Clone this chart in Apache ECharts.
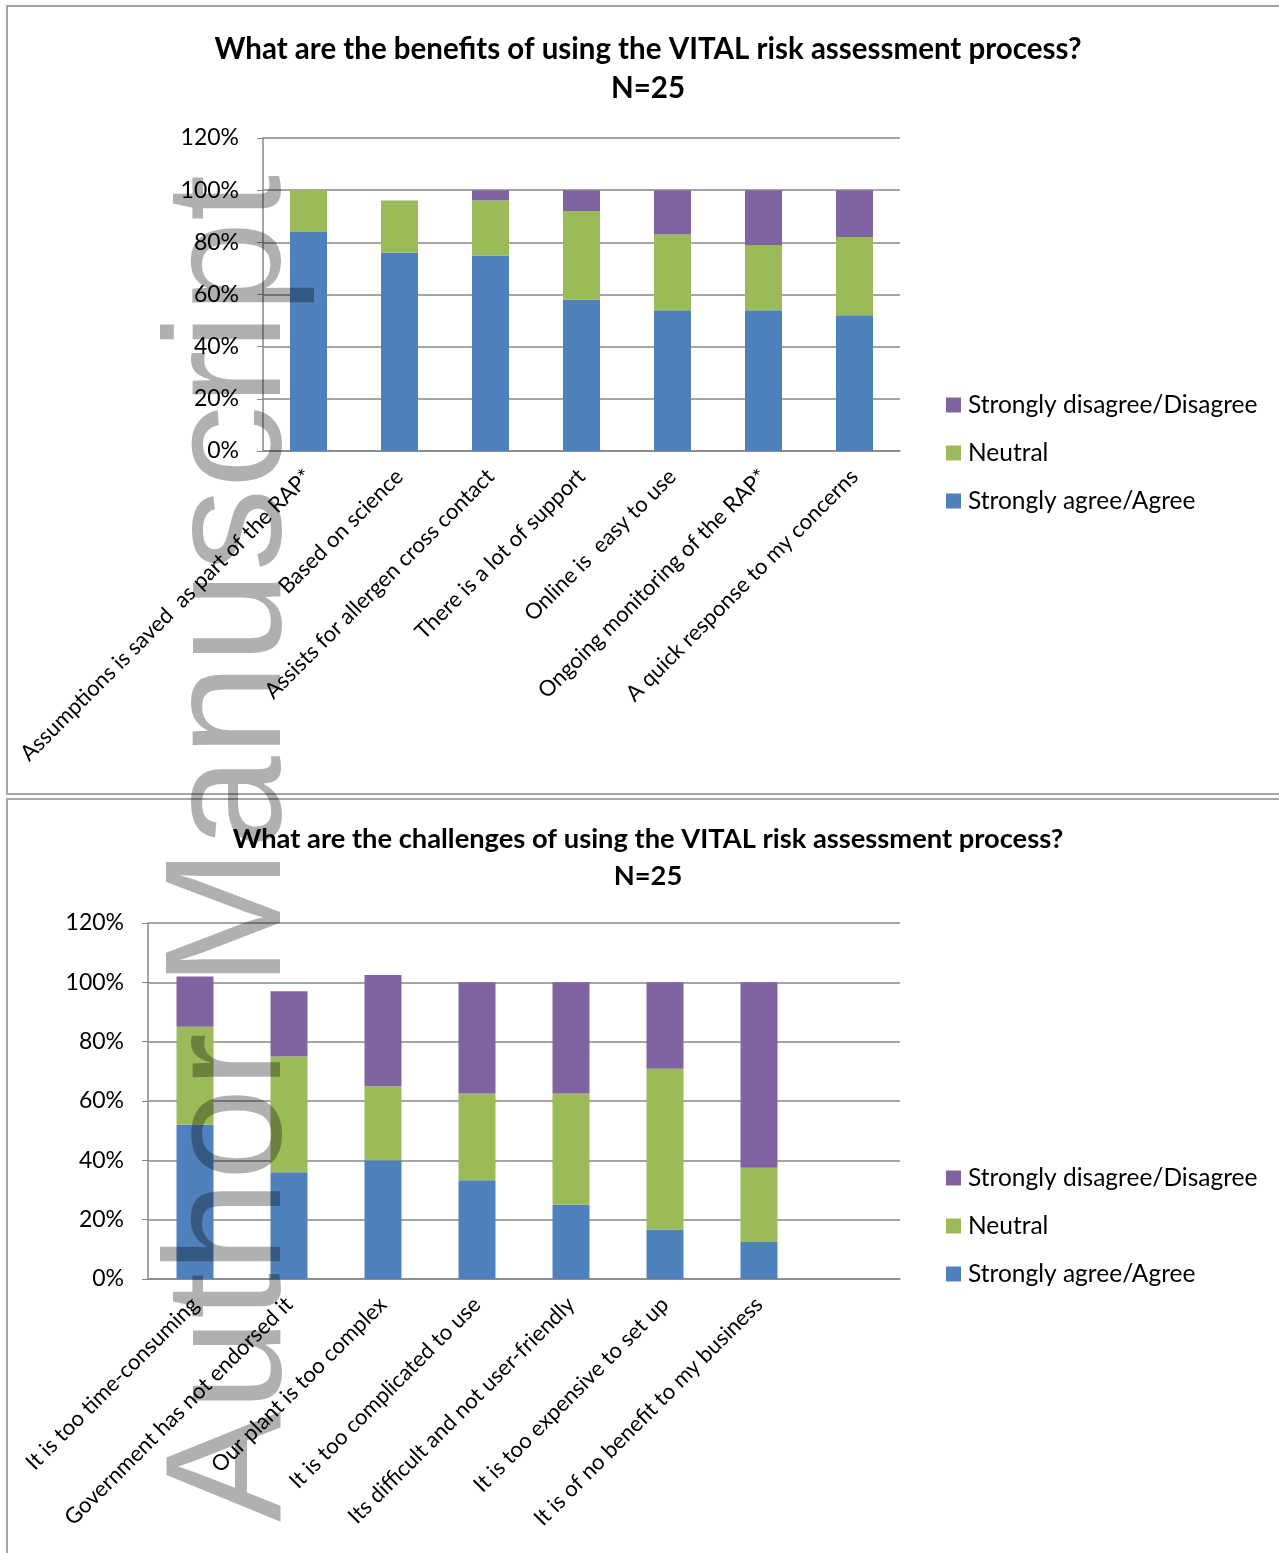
<!DOCTYPE html>
<html>
<head>
<meta charset="utf-8">
<script src="https://cdn.jsdelivr.net/npm/echarts@6/dist/echarts.min.js"></script>
<style>
  html, body { margin: 0; padding: 0; background: #fff; }
  #chart { width: 1279px; height: 1553px; }
</style>
</head>
<body>
<div id="chart"></div>
<script>
// benefits chart
const benefitCats = [
    "Assumptions is saved  as part of the RAP*",
    "Based on science",
    "Assists for allergen cross contact",
    "There is a lot of support",
    "Online is  easy to use",
    "Ongoing monitoring of the RAP*",
    "A quick response to my concerns"
];
const benefitAgree = [84, 76, 75, 58, 54, 54, 52];
const benefitNeutral = [16, 20, 21, 34, 29, 25, 30];
const benefitDisagree = [0, 0, 4, 8, 17, 21, 18];

// challenges chart (last category is empty, as in the original)
const challengeCats = [
    "It is too time-consuming",
    "Government has not endorsed it",
    "Our plant is too complex",
    "It is too complicated to use",
    "Its difficult and not user-friendly",
    "It is too expensive to set up",
    "It is of no benefit to my business",
    ""
];
const challengeAgree = [52, 36, 40, 33.3, 25, 16.7, 12.5];
const challengeNeutral = [33, 39, 25, 29.2, 37.5, 54.2, 25];
const challengeDisagree = [17, 22, 37.5, 37.5, 37.5, 29.1, 62.5];

const yTicks = [0, 20, 40, 60, 80, 100, 120];
const seriesNames = ["Strongly agree/Agree", "Neutral", "Strongly disagree/Disagree"];
const colors = ["#4F81BD", "#9BBB59", "#8064A2"];

const font = "Lato";
const gridColor = "#878787";

function xAxis(idx, cats) {
    return {
        type: "category",
        gridIndex: idx,
        data: cats,
        axisTick: { show: false },
        axisLine: { lineStyle: { color: gridColor, width: 1.5 } },
        axisLabel: {
            interval: 0,
            rotate: 45,
            margin: 22,
            color: "#000",
            fontSize: 22,
            fontFamily: font,
        },
    };
}

function yAxis(idx) {
    return {
        type: "value",
        gridIndex: idx,
        min: yTicks[0],
        max: yTicks[yTicks.length - 1],
        interval: 20,
        axisLine: { show: true, lineStyle: { color: gridColor, width: 1.5 } },
        axisTick: { show: true, length: 6, lineStyle: { color: gridColor } },
        splitLine: { lineStyle: { color: gridColor, width: 1.5 } },
        axisLabel: {
            formatter: "{value}%",
            margin: 24,
            color: "#000",
            fontSize: 23,
            fontFamily: font,
        },
    };
}

function bars(idx, stack, lists) {
    return lists.map(function (vals, i) {
        return {
            name: seriesNames[i],
            type: "bar",
            xAxisIndex: idx,
            yAxisIndex: idx,
            stack: stack,
            barWidth: 37,
            itemStyle: { color: colors[i] },
            data: vals,
        };
    });
}

function legend(top) {
    return {
        orient: "vertical",
        left: 941,
        top: top,
        data: seriesNames.slice().reverse(),
        icon: "rect",
        itemWidth: 15,
        itemHeight: 15,
        itemGap: 22,
        selectedMode: false,
        textStyle: { fontSize: 24.5, lineHeight: 26, color: "#000", fontFamily: font, padding: [0, 0, 0, 2] },
    };
}

const myChart = echarts.init(document.getElementById("chart"));
myChart.setOption({
    backgroundColor: "#fff",
    animation: false,
    title: [
        {
            text: "What are the benefits of using the VITAL risk assessment process?\nN=25",
            left: 643,
            top: 25,
            textAlign: "center",
            textStyle: { fontSize: 29.5, fontWeight: "bold", lineHeight: 39, color: "#000", fontFamily: font },
        },
        {
            text: "What are the challenges of using the VITAL risk assessment process?\nN=25",
            left: 643,
            top: 816,
            textAlign: "center",
            textStyle: { fontSize: 27.3, fontWeight: "bold", lineHeight: 37, color: "#000", fontFamily: font },
        },
    ],
    legend: [legend(387), legend(1160)],
    grid: [
        { left: 263, top: 138, width: 637, height: 313 },
        { left: 148, top: 923, width: 752, height: 356 },
    ],
    xAxis: [xAxis(0, benefitCats), xAxis(1, challengeCats)],
    yAxis: [yAxis(0), yAxis(1)],
    series: bars(0, "benefits", [benefitAgree, benefitNeutral, benefitDisagree])
        .concat(bars(1, "challenges", [challengeAgree, challengeNeutral, challengeDisagree])),
    graphic: [
        {
            type: "rect",
            shape: { x: 7, y: 6, width: 1290, height: 788 },
            style: { fill: "none", stroke: "#a6a6a6", lineWidth: 2 },
            z: 1,
        },
        {
            type: "rect",
            shape: { x: 7, y: 799, width: 1290, height: 800 },
            style: { fill: "none", stroke: "#a6a6a6", lineWidth: 2 },
            z: 1,
        },
        {
            type: "text",
            x: 317,
            y: 1522,
            rotation: Math.PI / 2,
            z: 100,
            style: {
                text: "Author Manuscript",
                font: '166px "Liberation Sans"',
                fill: "rgba(0,0,0,0.31)",
                align: "left",
                verticalAlign: "bottom",
            },
        },
    ],
});
</script>
</body>
</html>
